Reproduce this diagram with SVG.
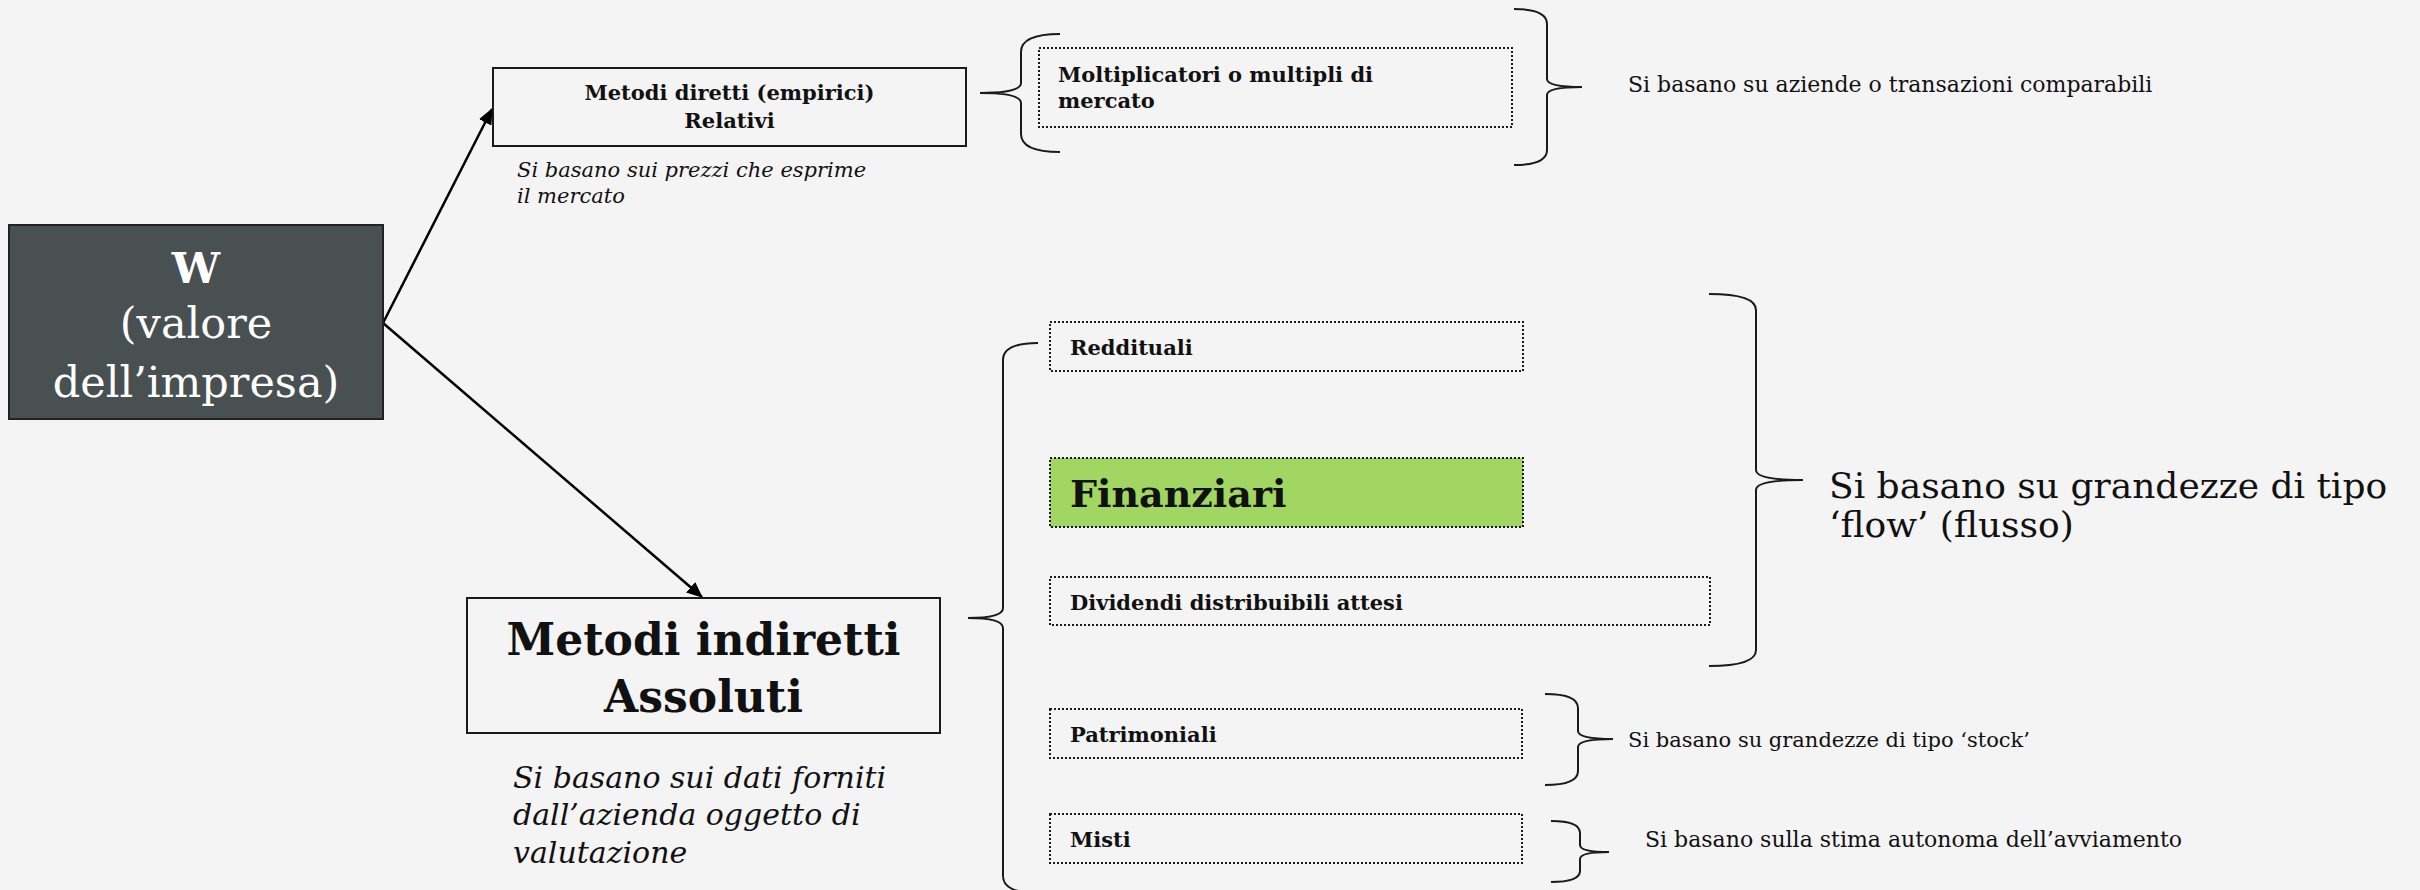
<svg xmlns="http://www.w3.org/2000/svg" width="2420" height="890" viewBox="0 0 2420 890">
<defs>
<marker id="arr" markerWidth="16" markerHeight="14" refX="15" refY="7" orient="auto" markerUnits="userSpaceOnUse" viewBox="0 0 16 14">
<path d="M0,0 L16,7 L0,14 z" fill="#000"/>
</marker>
<style>
.t{font-family:"DejaVu Serif","Liberation Serif",serif;fill:#111}
.b{font-weight:bold}
.i{font-style:italic}
.box{fill:#f4f4f4;stroke:#1a1a1a;stroke-width:2}
.dot{fill:none;stroke:#1a1a1a;stroke-width:2;stroke-dasharray:2 2}
.br{fill:none;stroke:#1a1a1a;stroke-width:2}
.con{stroke:#000;stroke-width:2.5;fill:none}
</style>
</defs>
<rect width="2420" height="890" fill="#f4f4f4"/>

<g id="connectors">
<line class="con" x1="383" y1="323" x2="492" y2="109" marker-end="url(#arr)"/>
<line class="con" x1="383" y1="323" x2="702" y2="597" marker-end="url(#arr)"/>
</g>

<g id="braces">
<path class="br" d="M1060,34 Q1021,34 1021,52 L1021,83 Q1021,93 980,93 Q1021,93 1021,103 L1021,134 Q1021,152 1060,152"/>
<path class="br" d="M1514,9 Q1547,9 1547,24 L1547,79 Q1547,87 1582,87 Q1547,87 1547,95 L1547,150 Q1547,165 1514,165"/>
<path class="br" d="M1038,343 Q1003,343 1003,360 L1003,608 Q1003,618 968,618 Q1003,618 1003,628 L1003,876 Q1003,893 1038,893"/>
<path class="br" d="M1709,294 Q1756,294 1756,310 L1756,470 Q1756,480 1803,480 Q1756,480 1756,490 L1756,650 Q1756,666 1709,666"/>
<path class="br" d="M1545,694 Q1578,694 1578,708 L1578,731 Q1578,739 1613,739 Q1578,739 1578,747 L1578,771 Q1578,785 1545,785"/>
<path class="br" d="M1551,821 Q1580,821 1580,833 L1580,845 Q1580,852 1609,852 Q1580,852 1580,859 L1580,871 Q1580,882 1551,882"/>
</g>

<g id="node-w">
<rect x="9" y="225" width="374" height="194" fill="#485052" stroke="#222" stroke-width="2"/>
<text class="t b" x="196" y="283" font-size="43" text-anchor="middle" style="fill:#fff">W</text>
<text class="t" x="196" y="338" font-size="43" text-anchor="middle" style="fill:#fff">(valore</text>
<text class="t" x="196" y="397" font-size="43" text-anchor="middle" style="fill:#fff">dell’impresa)</text>
</g>

<g id="node-diretti">
<rect class="box" x="493" y="68" width="473" height="78"/>
<text class="t b" x="729.5" y="100" font-size="21" text-anchor="middle">Metodi diretti (empirici)</text>
<text class="t b" x="729.5" y="128" font-size="21" text-anchor="middle">Relativi</text>
</g>

<g id="note-diretti">
<text class="t i" x="517" y="177" font-size="21">Si basano sui prezzi che esprime</text>
<text class="t i" x="517" y="203" font-size="21">il mercato</text>
</g>

<g id="node-indiretti">
<rect class="box" x="467" y="598" width="473" height="135"/>
<text class="t b" x="703.5" y="655" font-size="44" text-anchor="middle">Metodi indiretti</text>
<text class="t b" x="703.5" y="712" font-size="44" text-anchor="middle">Assoluti</text>
</g>

<g id="note-indiretti">
<text class="t i" x="513" y="788" font-size="30">Si basano sui dati forniti</text>
<text class="t i" x="513" y="825" font-size="30">dall’azienda oggetto di</text>
<text class="t i" x="513" y="863" font-size="30">valutazione</text>
</g>

<g id="node-moltiplicatori">
<rect class="dot" x="1039" y="48" width="473" height="79"/>
<text class="t b" x="1058" y="82" font-size="21">Moltiplicatori o multipli di</text>
<text class="t b" x="1058" y="108" font-size="21">mercato</text>
</g>

<g id="label-comparabili">
<text class="t" x="1628" y="92" font-size="22">Si basano su aziende o transazioni comparabili</text>
</g>

<g id="node-reddituali">
<rect class="dot" x="1050" y="322" width="473" height="49"/>
<text class="t b" x="1070" y="355" font-size="21">Reddituali</text>
</g>

<g id="node-finanziari">
<rect x="1050" y="458" width="473" height="69" fill="#a1d662" stroke="#1a1a1a" stroke-width="2" stroke-dasharray="2 2"/>
<text class="t b" x="1070" y="507" font-size="38">Finanziari</text>
</g>

<g id="node-dividendi">
<rect class="dot" x="1050" y="577" width="660" height="48"/>
<text class="t b" x="1070" y="610" font-size="21">Dividendi distribuibili attesi</text>
</g>

<g id="label-flow">
<text class="t" x="1829" y="498" font-size="36">Si basano su grandezze di tipo</text>
<text class="t" x="1829" y="537" font-size="36">‘flow’ (flusso)</text>
</g>

<g id="node-patrimoniali">
<rect class="dot" x="1050" y="709" width="472" height="49"/>
<text class="t b" x="1070" y="742" font-size="21">Patrimoniali</text>
</g>

<g id="label-stock">
<text class="t" x="1628" y="747" font-size="21">Si basano su grandezze di tipo ‘stock’</text>
</g>

<g id="node-misti">
<rect class="dot" x="1050" y="814" width="472" height="49"/>
<text class="t b" x="1070" y="847" font-size="21">Misti</text>
</g>

<g id="label-avviamento">
<text class="t" x="1645" y="847" font-size="22">Si basano sulla stima autonoma dell’avviamento</text>
</g>
</svg>
